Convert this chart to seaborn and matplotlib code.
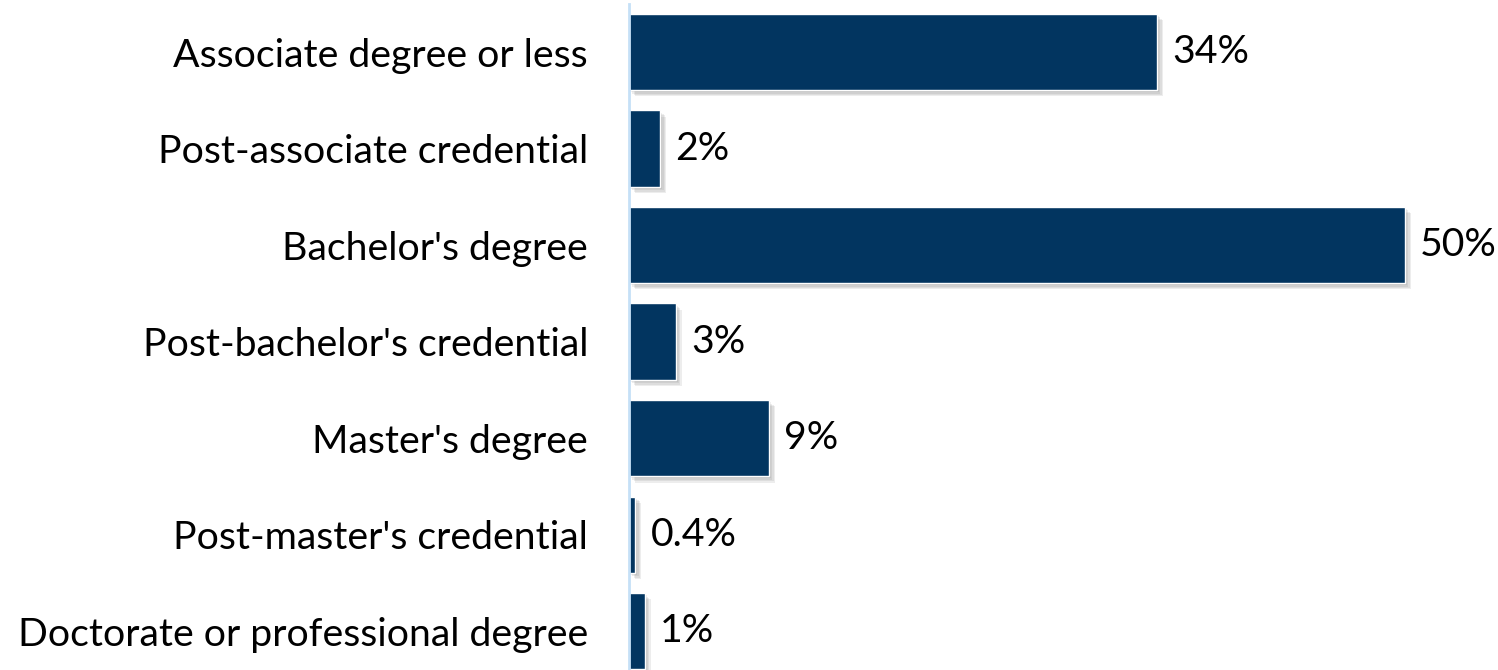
import matplotlib
matplotlib.use("Agg")
import matplotlib.pyplot as plt
import matplotlib.patheffects as pe
import seaborn as sns
import pandas as pd

categories = [
    "Associate degree or less",
    "Post-associate credential",
    "Bachelor's degree",
    "Post-bachelor's credential",
    "Master's degree",
    "Post-master's credential",
    "Doctorate or professional degree",
]
shares = [34, 2, 50, 3, 9, 0.4, 1]
value_labels = ["34%", "2%", "50%", "3%", "9%", "0.4%", "1%"]

df = pd.DataFrame({"category": categories, "share": shares})

sns.set_theme(style="white")
plt.rcParams["font.family"] = ["Lato", "DejaVu Sans"]

W, H = 1498, 670
fig = plt.figure(figsize=(W / 100, H / 100), dpi=100)
left = 629 / W
right = (629 + 55 * 15.52) / W
top = 1 - 3.75 / H
bottom = 1 - 679.5 / H
ax = fig.add_axes([left, bottom, right - left, top - bottom])

sns.barplot(data=df, y="category", x="share", orient="h", color="#023560",
            saturation=1, width=0.79, ax=ax)

# soft drop shadow built from a few stacked, offset translucent copies
shadow = [pe.SimplePatchShadow(offset=(d, -d), shadow_rgbFace="#555555", alpha=0.10)
          for d in (1.5, 2.5, 3.5, 4.5)]
for bar in ax.patches:
    bar.set_path_effects(shadow + [pe.Normal()])

ax.set_xlim(0, 55)
ax.set_ylim(6.5, -0.5)
ax.set_xlabel("")
ax.set_ylabel("")
ax.set_xticks([])
for s in ["top", "right", "bottom"]:
    ax.spines[s].set_visible(False)
ax.spines["left"].set_color("#c5e0f7")
ax.spines["left"].set_linewidth(2)
ax.tick_params(axis="y", length=0, pad=29.5, labelsize=28.3, labelcolor="black")

for i, (v, lab) in enumerate(zip(shares, value_labels)):
    ax.annotate(lab, xy=(v, i), xytext=(11, 0), textcoords="offset points",
                va="center", ha="left", fontsize=28.3, color="black")

fig.savefig("out.png", dpi=100)
